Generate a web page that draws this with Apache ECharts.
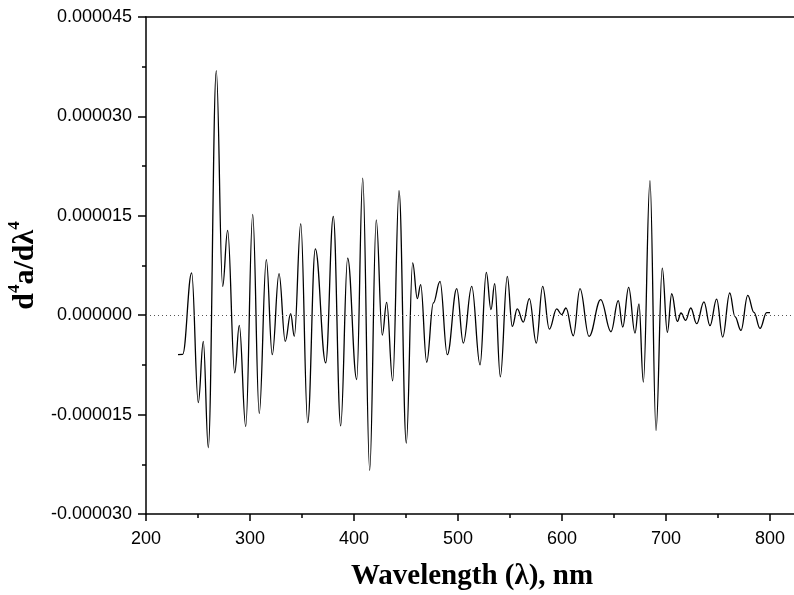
<!DOCTYPE html>
<html><head><meta charset="utf-8">
<script src="https://cdn.jsdelivr.net/npm/echarts@6/dist/echarts.min.js"></script>
<style>html,body{margin:0;padding:0;background:#fff}#c{width:794px;height:595px}</style>
</head><body><div id="c"></div>
<script>
// Wavelength (nm)
const wavelength = [
  230.8, 235.3, 243.9, 250.3, 255.1, 259.9, 267.6, 273.7, 278.5, 285.3,
  289.7, 295.9, 302.6, 308.9, 315.7, 321.4, 327.9, 333.9, 339.1, 342.6,
  348.8, 355.5, 362.8, 372.8, 380.1, 387.2, 393.9, 402.6, 408.4, 415.1,
  421.4, 427.2, 431.4, 437.2, 443.3, 450.3, 456.4, 460.9, 464.1, 469.9,
  476.3, 482.7, 489.7, 498.8, 505.1, 513.2, 521.2, 527.2, 531.7, 535.3,
  540.7, 547.4, 552.2, 557.0, 562.8, 568.6, 575.3, 581.4, 587.8, 594.9,
  599.7, 603.8, 610.9, 617.3, 626.0, 637.2, 647.1, 654.1, 658.4, 664.1,
  670.2, 674.0, 678.2, 684.6, 690.4, 696.4, 701.3, 705.5, 710.9, 714.4,
  718.9, 723.8, 729.5, 736.5, 742.3, 748.7, 754.5, 761.3, 766.3, 772.1,
  778.6, 784.6, 790.4, 796.8, 800.0
];
// d4a/dλ4 values, in units of 1e-6
const deriv4Micro = [
  -5.96, -5.9, 6.4, -13.2, -3.95, -20.0, 36.9, 4.35, 12.8, -8.7,
  -1.54, -16.8, 15.2, -14.8, 8.4, -5.96, 6.26, -3.95, 0.23, -3.2,
  13.8, -16.2, 10.0, -7.2, 14.9, -16.7, 8.6, -9.7, 20.7, -23.4,
  14.4, -3.0, 1.93, -9.9, 18.8, -19.3, 7.9, 2.5, 4.6, -7.1,
  1.84, 5.1, -5.96, 4.0, -4.2, 4.35, -7.5, 6.46, 0.83, 4.75,
  -9.3, 5.86, -1.69, 0.94, -1.03, 2.49, -4.2, 4.35, -2.1, 0.94,
  0.08, 1.09, -3.1, 4.0, -3.2, 2.34, -2.5, 2.19, -1.78, 4.2,
  -2.7, 1.7, -10.1, 20.3, -17.4, 7.1, -2.6, 3.24, -0.94, 0.33,
  -0.78, 1.09, -1.28, 2.0, -1.58, 2.44, -3.3, 3.35, -0.2, -2.3,
  3.0, 0.42, -2.0, 0.4, 0.4
];
const xTickValues = [200, 300, 400, 500, 600, 700, 800];
const yTickValuesMicro = [-30, -15, 0, 15, 30, 45];

const seriesData = wavelength.map((w, i) => [w, deriv4Micro[i]]);
const axisColor = '#000';
const lineW = 1.5;

const chart = echarts.init(document.getElementById('c'), null, {renderer: 'canvas'});
chart.setOption({
  animation: false,
  backgroundColor: '#fff',
  grid: {left: 146, top: 17, width: 676, height: 497, containLabel: false, outerBoundsMode: 'none'},
  xAxis: [{
    type: 'value', min: 200, max: 850, interval: 100, position: 'bottom',
    axisLine: {show: true, onZero: false, lineStyle: {color: axisColor, width: lineW}},
    axisTick: {show: true, length: 7, lineStyle: {color: axisColor, width: lineW}},
    minorTick: {show: true, splitNumber: 2, length: 4, lineStyle: {color: axisColor, width: lineW}},
    splitLine: {show: false},
    axisLabel: {
      margin: 16, fontSize: 18, color: '#000', fontFamily: 'Liberation Sans',
      showMaxLabel: false,
      formatter: v => xTickValues.includes(v) ? String(v) : ''
    },
    name: 'Wavelength (λ), nm', nameLocation: 'middle', nameGap: 48,
    nameTextStyle: {fontFamily: 'Liberation Serif', fontWeight: 'bold', fontSize: 29, color: '#000', padding: [0, 24, 0, 0]}
  }, {
    type: 'value', min: 200, max: 850, position: 'top',
    axisLine: {show: true, onZero: false, lineStyle: {color: axisColor, width: lineW}},
    axisTick: {show: false}, axisLabel: {show: false}, splitLine: {show: false}
  }],
  yAxis: {
    type: 'value', min: -30, max: 45, interval: 15,
    axisLine: {show: true, onZero: false, lineStyle: {color: axisColor, width: lineW}},
    axisTick: {show: true, length: 8, lineStyle: {color: axisColor, width: lineW}},
    minorTick: {show: true, splitNumber: 2, length: 4, lineStyle: {color: axisColor, width: lineW}},
    splitLine: {show: false},
    axisLabel: {
      margin: 14, fontSize: 18, color: '#000', fontFamily: 'Liberation Sans',
      formatter: v => yTickValuesMicro.includes(v) ? (v * 1e-6).toFixed(6) : ''
    },
    name: '{a|d}{s|4}{a|a/d}{a|λ}{s|4}',
    nameLocation: 'middle', nameRotate: 90, nameGap: 94,
    nameTextStyle: {
      rich: {
        a: {fontFamily: 'Liberation Serif', fontWeight: 'bold', fontSize: 30, color: '#000', lineHeight: 34, verticalAlign: 'bottom'},
        s: {fontFamily: 'Liberation Serif', fontWeight: 'bold', fontSize: 17, color: '#000', lineHeight: 34, verticalAlign: 'top'}
      }
    }
  },
  series: [{
    type: 'line',
    data: seriesData,
    xAxisIndex: 0,
    smooth: 0.4,
    smoothMonotone: 'x',
    showSymbol: false,
    symbol: 'none',
    lineStyle: {color: '#000', width: 1.3},
    markLine: {
      silent: true, symbol: 'none', animation: false,
      label: {show: false},
      lineStyle: {color: '#555', type: [1, 3], width: 1},
      data: [{yAxis: 0}]
    }
  }]
});
</script></body></html>
